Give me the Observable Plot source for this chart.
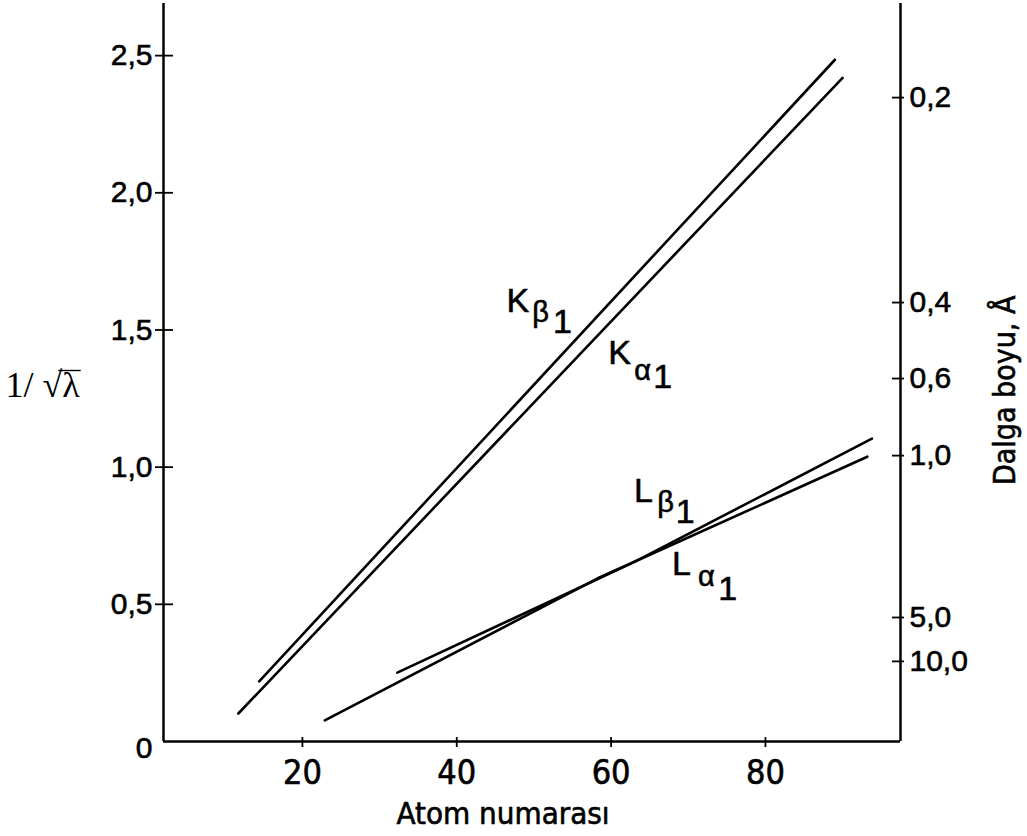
<!DOCTYPE html>
<html><head><meta charset="utf-8">
<script src="https://cdn.jsdelivr.net/npm/d3@7"></script>
<script src="https://cdn.jsdelivr.net/npm/@observablehq/plot@0.6"></script>
<style>
body{margin:0;background:#fff;}
#chart svg{display:block;}
#chart svg text{stroke:#000;stroke-width:0.6px;paint-order:stroke;}
#chart svg text.ylab{stroke:none;font-family:'Liberation Serif','DejaVu Serif',serif;}
</style>
</head><body><div id="chart"></div>
<script>
// ---- data ----
const kBetaZ = [14.4, 89.0];
const kBetaV = [0.219, 2.485];
const kAlphaZ = [11.7, 90.0];
const kAlphaV = [0.102, 2.419];
const lBetaZ = [32.3, 62.9, 93.8];
const lBetaV = [0.251, 0.653, 1.104];
const lAlphaZ = [22.9, 58.2, 93.2];
const lAlphaV = [0.077, 0.594, 1.038];

const leftTicks = [0.5, 1.0, 1.5, 2.0, 2.5];
const bottomTicks = [20, 40, 60, 80];
const rightTickLabels = ["0,2", "0,4", "0,6", "1,0", "5,0", "10,0"];
const rightTickPos = [2.347, 1.600, 1.323, 1.042, 0.452, 0.292];

// series labels: main letter, Greek subscript, index
const labelMain = ["K", "K", "L", "L"];
const labelGreek = ["β", "α", "β", "α"];
const labelIdx = ["1", "1", "1", "1"];

const xLabel = "Atom numarası";
const yLabel = "1/ √λ";
const y2Label = "Dalga boyu, Å";

// ---- tables built from the arrays ----
const rows = [];
[["Kβ1", kBetaZ, kBetaV], ["Kα1", kAlphaZ, kAlphaV], ["Lβ1", lBetaZ, lBetaV], ["Lα1", lAlphaZ, lAlphaV]]
  .forEach(([s, zs, vs]) => zs.forEach((z, i) => rows.push({series: s, z, v: vs[i]})));

// annotation anchor points (data units)
const mainPos = [[47.9, 1.604], [61.1, 1.414], [64.2, 0.911], [69.1, 0.645]];
const greekPos = [[50.85, 1.564], [64.1, 1.352], [67.05, 0.871], [72.36, 0.601]];
const idxPos = [[53.7, 1.527], [66.7, 1.327], [69.6, 0.835], [75.1, 0.554]];
const mk = (pos, txt) => pos.map((p, i) => ({x: p[0], y: p[1], t: txt[i]}));

const xDomain = [2.0, 97.5];
const yDomain = [0, 2.69];
const fmt = d => d.toFixed(1).replace(".", ",");
const condensed = "'DejaVu Sans Condensed', 'Liberation Sans Narrow', 'Arial Narrow', sans-serif";

const chart = Plot.plot({
  width: 1027,
  height: 836,
  marginLeft: 163,
  marginRight: 127,
  marginTop: 3,
  marginBottom: 95,
  style: {fontFamily: "'Liberation Sans', Arial, sans-serif", fontSize: "30px", background: "#fff", color: "#000"},
  x: {domain: xDomain},
  y: {domain: yDomain},
  marks: [
    Plot.ruleX([xDomain[0], xDomain[1]], {stroke: "#000", strokeWidth: 2.5}),
    Plot.ruleY([0], {stroke: "#000", strokeWidth: 2.5}),
    Plot.axisY(leftTicks, {anchor: "left", tickSize: 18, dx: 10, tickPadding: 3, tickFormat: fmt, strokeWidth: 1.8, label: null, fontSize: 30}),
    Plot.axisY(rightTickPos, {anchor: "right", tickSize: 12, dx: -9, tickPadding: 6, tickFormat: d => rightTickLabels[rightTickPos.indexOf(d)], strokeWidth: 1.8, label: null, fontSize: 30}),
    Plot.axisX(bottomTicks, {anchor: "bottom", tickSize: 10, dy: -4, tickPadding: 12, strokeWidth: 1.8, label: null, fontSize: 34, fontFamily: condensed}),
    Plot.text(["0"], {frameAnchor: "bottom-left", dx: -11, dy: 16, textAnchor: "end", fontSize: 30}),
    Plot.line(rows, {x: "z", y: "v", z: "series", stroke: "#000", strokeWidth: 2.6}),
    Plot.text(mk(mainPos, labelMain), {x: "x", y: "y", text: "t", fontSize: 34}),
    Plot.text(mk(greekPos, labelGreek), {x: "x", y: "y", text: "t", fontSize: 29}),
    Plot.text(mk(idxPos, labelIdx), {x: "x", y: "y", text: "t", fontSize: 34}),
    Plot.text([xLabel], {x: [46], frameAnchor: "bottom", lineAnchor: "middle", dy: 73, fontSize: 31, fontFamily: condensed}),
    Plot.text([yLabel], {y: [1.298], frameAnchor: "left", textAnchor: "start", dx: -158, fontSize: 36, fontFamily: "'Liberation Serif', 'DejaVu Serif', serif"}),
    Plot.text([y2Label], {y: [1.28], frameAnchor: "right", textAnchor: "middle", dx: 105, rotate: -90, fontSize: 30, fontFamily: condensed})
  ]
});
document.getElementById("chart").append(chart);

// give the radical its vinculum over λ
d3.select(chart).selectAll("text").filter(function() { return this.textContent === yLabel; })
  .each(function() {
    this.setAttribute("class", "ylab");
    const n = this.getNumberOfChars();
    const rad = this.getExtentOfChar(n - 2);
    const lam = this.getExtentOfChar(n - 1);
    const yTop = rad.y + rad.height * 0.14;
    const g = d3.select(this.parentNode).append("line")
      .attr("x1", rad.x + rad.width * 0.8).attr("x2", lam.x + lam.width + 1)
      .attr("y1", yTop).attr("y2", yTop)
      .attr("stroke", "#000").attr("stroke-width", 1.4);
    const tr = this.getAttribute("transform");
    if (tr) g.attr("transform", tr);
  });
</script>
</body></html>
